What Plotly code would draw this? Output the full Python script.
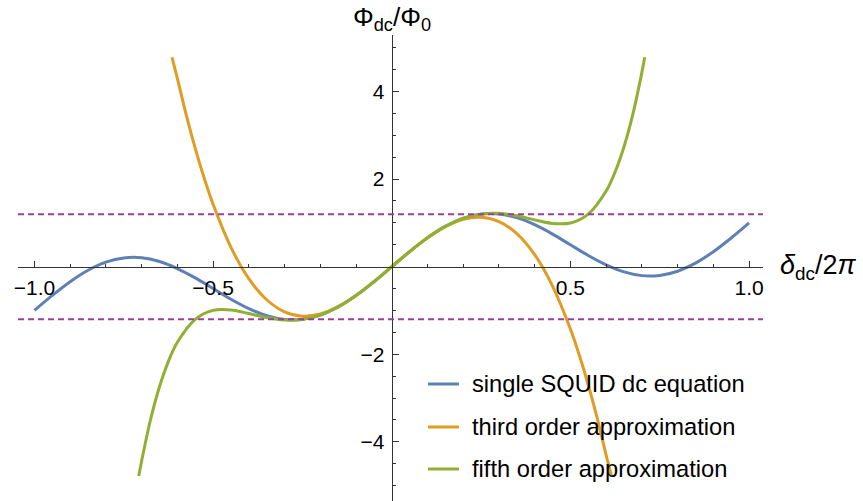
import plotly.graph_objects as go

# ---- data: flux vs. phase (delta_dc / 2pi -> Phi_dc / Phi_0) ----
squid_x = [-1.00, -0.95, -0.90, -0.85, -0.80, -0.75, -0.70, -0.65, -0.60, -0.55,
           -0.50, -0.45, -0.40, -0.35, -0.30, -0.25, -0.20, -0.15, -0.10, -0.05,
           0.00, 0.05, 0.10, 0.15, 0.20, 0.25, 0.30, 0.35, 0.40, 0.45,
           0.50, 0.55, 0.60, 0.65, 0.70, 0.75, 0.80, 0.85, 0.90, 0.95, 1.00]
squid_y = [-1.000, -0.656, -0.342, -0.081, 0.104, 0.200, 0.204, 0.119, -0.042, -0.256,
           -0.500, -0.744, -0.958, -1.119, -1.204, -1.200, -1.104, -0.919, -0.658, -0.344,
           0.000, 0.344, 0.658, 0.919, 1.104, 1.200, 1.204, 1.119, 0.958, 0.744,
           0.500, 0.256, 0.042, -0.119, -0.204, -0.200, -0.104, 0.081, 0.342, 0.656, 1.000]

third_x = [-0.615, -0.60, -0.575, -0.55, -0.525, -0.50, -0.45, -0.40, -0.35, -0.30,
           -0.25, -0.20, -0.15, -0.10, -0.05, 0.00, 0.05, 0.10, 0.15, 0.20,
           0.25, 0.30, 0.35, 0.40, 0.45, 0.50, 0.525, 0.55, 0.575, 0.60, 0.615]
third_y = [4.780, 4.301, 3.459, 2.701, 2.024, 1.424, 0.442, -0.275, -0.755, -1.031,
           -1.129, -1.080, -0.913, -0.658, -0.344, 0.000, 0.344, 0.658, 0.913, 1.080,
           1.129, 1.031, 0.755, 0.275, -0.442, -1.424, -2.024, -2.701, -3.459, -4.301, -4.780]

fifth_x = [-0.708, -0.70, -0.675, -0.65, -0.625, -0.60, -0.55, -0.50, -0.45, -0.40,
           -0.35, -0.30, -0.25, -0.20, -0.15, -0.10, -0.05, 0.00, 0.05, 0.10,
           0.15, 0.20, 0.25, 0.30, 0.35, 0.40, 0.45, 0.50, 0.55, 0.60,
           0.625, 0.65, 0.675, 0.70, 0.708]
fifth_y = [-4.780, -4.437, -3.489, -2.740, -2.161, -1.727, -1.201, -0.998, -0.988, -1.069,
           -1.162, -1.219, -1.205, -1.105, -0.919, -0.659, -0.344, 0.000, 0.344, 0.659,
           0.919, 1.105, 1.205, 1.219, 1.162, 1.069, 0.988, 0.998, 1.201, 1.727,
           2.161, 2.740, 3.489, 4.437, 4.780]

band_levels = [1.2, -1.2]

series_names = ["single SQUID dc equation", "third order approximation", "fifth order approximation"]
series_colors = ["#5E81B5", "#E19C24", "#8FB032"]

x_ticks = [-1.0, -0.5, 0.5, 1.0]
x_ticktext = ["\u22121.0", "\u22120.5", "0.5", "1.0"]
x_minor = [-0.9, -0.8, -0.7, -0.6, -0.4, -0.3, -0.2, -0.1,
           0.1, 0.2, 0.3, 0.4, 0.6, 0.7, 0.8, 0.9]
y_ticks = [-4, -2, 2, 4]
y_ticktext = ["\u22124", "\u22122", "2", "4"]
y_minor = [-5.0, -4.5, -3.5, -3.0, -2.5, -1.5, -1.0, -0.5,
           0.5, 1.0, 1.5, 2.5, 3.0, 3.5, 4.5, 5.0]

x_range = [-1.046, 1.039]
y_range = [-5.35, 5.29]

W, H = 863, 501
ML, MR, MT, MB = 18, 100, 35, 0
PW, PH = W - ML - MR, H - MT - MB


def px_x(p):
    """pixel column -> paper x"""
    return (p - ML) / PW


def px_y(p):
    """pixel row -> paper y"""
    return (H - MB - p) / PH


FONT = "Liberation Sans, Arial, sans-serif"
AXIS = "#333333"

fig = go.Figure()
for i, (xs, ys) in enumerate([(squid_x, squid_y), (third_x, third_y), (fifth_x, fifth_y)]):
    fig.add_trace(go.Scatter(
        x=xs, y=ys, mode="lines", name=series_names[i],
        line=dict(color=series_colors[i], width=3, shape="spline", smoothing=1.0),
        hoverinfo="skip", showlegend=False,
    ))

# dashed bounds across the full width
for lvl in band_levels:
    fig.add_shape(type="line", xref="paper", x0=0, x1=1, yref="y", y0=lvl, y1=lvl,
                  line=dict(color="#9A3F9E", width=2, dash="6px,4px"), layer="above")

# legend: short line swatch + label per series
annotations = []
legend_rows = [384, 427, 469]
for i, row in enumerate(legend_rows):
    fig.add_shape(type="line", xref="paper", yref="paper",
                  x0=px_x(428), x1=px_x(459), y0=px_y(row), y1=px_y(row),
                  line=dict(color=series_colors[i], width=3))
    annotations.append(dict(
        text=series_names[i], xref="paper", yref="paper",
        x=px_x(470), y=px_y(row), xanchor="left", yanchor="middle",
        showarrow=False, font=dict(size=23.7, family=FONT, color="black")))

annotations += [
    dict(text="\u03a6<sub>dc</sub>/\u03a6<sub>0</sub>", xref="x", x=0, yref="paper",
         y=px_y(18), xanchor="center", yanchor="middle", showarrow=False,
         font=dict(size=26, family=FONT, color="black")),
    dict(text="<i>\u03b4</i><sub>dc</sub>/2<i>\u03c0</i>", xref="paper",
         x=px_x(778), yref="y", y=0, xanchor="left", yanchor="middle",
         showarrow=False, font=dict(size=27, family=FONT, color="black")),
]

x_axis_pos = (0 - y_range[0]) / (y_range[1] - y_range[0])
y_axis_pos = (0 - x_range[0]) / (x_range[1] - x_range[0])

fig.update_layout(
    width=W, height=H,
    margin=dict(l=ML, r=MR, t=MT, b=MB),
    paper_bgcolor="white", plot_bgcolor="white",
    font=dict(family=FONT, color="black"),
    showlegend=False,
    xaxis=dict(
        range=x_range, anchor="free", position=x_axis_pos,
        showline=True, linecolor=AXIS, linewidth=1,
        showgrid=False, zeroline=False,
        ticks="inside", ticklen=6, tickwidth=1, tickcolor=AXIS,
        tickmode="array", tickvals=x_ticks, ticktext=x_ticktext,
        tickfont=dict(size=21, family=FONT, color="black"),
        ticklabelstandoff=2,
        minor=dict(tickmode="array", tickvals=x_minor, ticks="inside",
                   ticklen=3, tickwidth=1, tickcolor=AXIS),
    ),
    yaxis=dict(
        range=y_range, anchor="free", position=y_axis_pos,
        showline=True, linecolor=AXIS, linewidth=1,
        showgrid=False, zeroline=False,
        ticks="inside", ticklen=6, tickwidth=1, tickcolor=AXIS,
        tickmode="array", tickvals=y_ticks, ticktext=y_ticktext,
        tickfont=dict(size=21, family=FONT, color="black"),
        ticklabelstandoff=3,
        minor=dict(tickmode="array", tickvals=y_minor, ticks="inside",
                   ticklen=3, tickwidth=1, tickcolor=AXIS),
    ),
    annotations=annotations,
)

fig.write_html("out.html")
